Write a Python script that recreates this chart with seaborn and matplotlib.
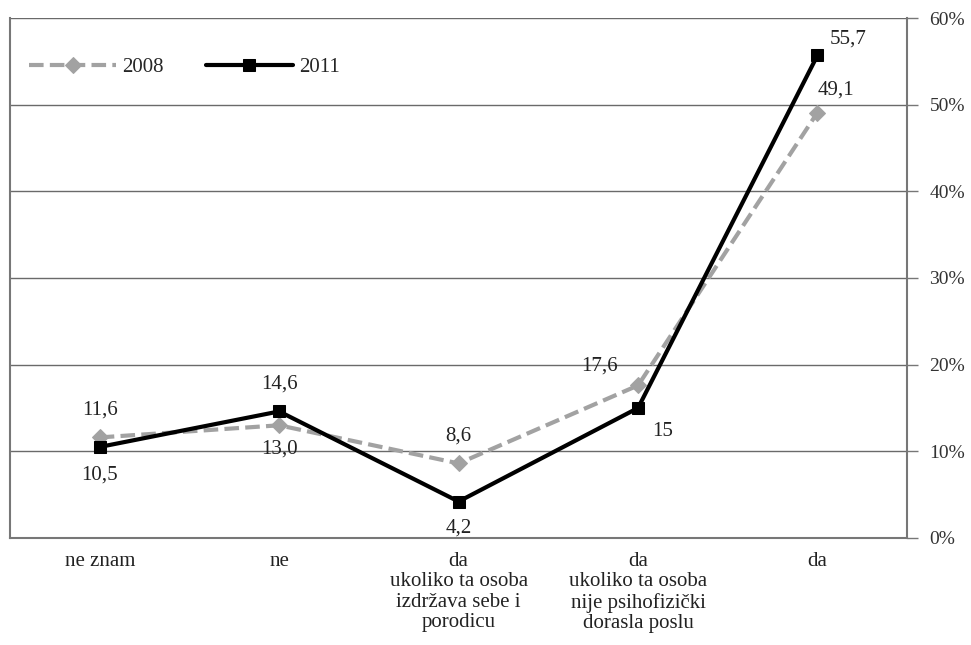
import pandas as pd
import matplotlib.pyplot as plt
import seaborn as sns

# podaci
kategorije = ["ne znam", "ne",
              "da\nukoliko ta osoba\nizdržava sebe i\nporodicu",
              "da\nukoliko ta osoba\nnije psihofizički\ndorasla poslu",
              "da"]
v2008 = [11.6, 13.0, 8.6, 17.6, 49.1]
v2011 = [10.5, 14.6, 4.2, 15.0, 55.7]
lab2008 = ["11,6", "13,0", "8,6", "17,6", "49,1"]
lab2011 = ["10,5", "14,6", "4,2", "15", "55,7"]
y_ticks = [0, 10, 20, 30, 40, 50, 60]

df = pd.DataFrame({
    "kat": kategorije * 2,
    "v": v2008 + v2011,
    "god": ["2008"] * 5 + ["2011"] * 5,
})

sns.set_style("white")
plt.rcParams["font.family"] = ["Liberation Serif", "DejaVu Serif"]
fs = 15

fig = plt.figure(figsize=(9.71, 6.45), dpi=100)
ax = fig.add_axes([0.0103, 0.166, 0.924, 0.806])

sns.lineplot(data=df[df["god"] == "2008"], x="kat", y="v", ax=ax, color="#a2a2a2",
             lw=3, linestyle=(0, (3.5, 1.5)), marker="D", markersize=8,
             markeredgecolor="#a2a2a2", label="2008", sort=False)
sns.lineplot(data=df[df["god"] == "2011"], x="kat", y="v", ax=ax, color="black",
             lw=3, marker="s", markersize=9, markeredgecolor="black",
             label="2011", sort=False)

ax.set_xlim(-0.5, 4.5)
ax.set_ylim(0, 60)
ax.set_xlabel("")
ax.set_ylabel("")

# y os desno
ax.yaxis.tick_right()
ax.set_yticks(y_ticks)
ax.set_yticklabels([f"{t}%" for t in y_ticks], fontsize=14, color="#333333")
ax.tick_params(axis="y", direction="out", length=8, width=1, color="#777777", pad=8, right=True)
ax.grid(axis="y", color="#6a6a6a", lw=1)
ax.set_axisbelow(True)

ax.set_xticks(range(5))
ax.set_xticklabels(kategorije, fontsize=fs, color="#222222", linespacing=1.1)
ax.tick_params(axis="x", which="major", length=0, pad=10)
ax.set_xticks([-0.5, 0.5, 1.5, 2.5, 3.5, 4.5], minor=True)
ax.tick_params(axis="x", which="minor", direction="out", length=6, width=1, color="#777777")

for s in ax.spines.values():
    s.set_color("#777777")
    s.set_linewidth(1.5)
ax.spines["top"].set_visible(False)

# oznake vrijednosti
off2008 = [(0, 20), (0, -17), (0, 20), (-28, 14), (13, 16)]
off2011 = [(0, -20), (0, 20), (0, -19), (18, -17), (22, 12)]
for i in range(5):
    ax.annotate(lab2008[i], (i, v2008[i]), xytext=off2008[i], textcoords="offset points",
                ha="center", va="center", fontsize=fs, color="#222222")
    ax.annotate(lab2011[i], (i, v2011[i]), xytext=off2011[i], textcoords="offset points",
                ha="center", va="center", fontsize=fs, color="#222222")

ax.legend(loc="upper left", bbox_to_anchor=(0.0, 0.96), ncol=2, frameon=False,
          fontsize=fs, handlelength=4.2, columnspacing=2.0, handletextpad=0.3)

plt.savefig("out.png", dpi=100)
